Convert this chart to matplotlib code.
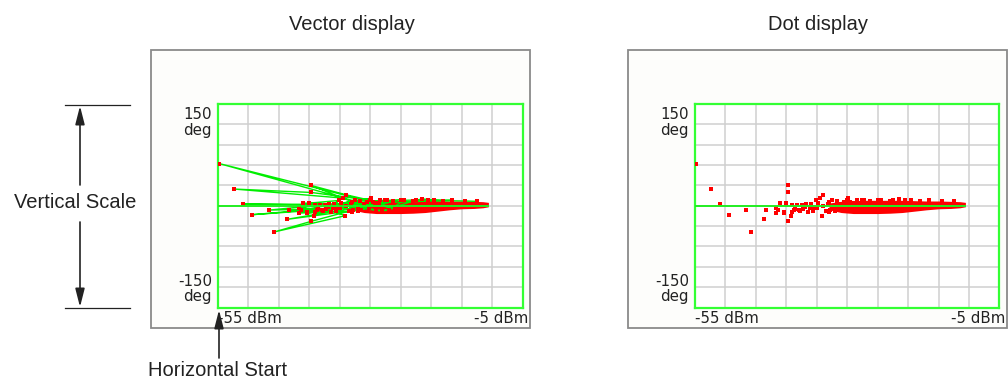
import matplotlib
matplotlib.use("Agg")
import matplotlib.pyplot as plt
from matplotlib.patches import Rectangle, FancyArrowPatch
from matplotlib.lines import Line2D

# phase vs power samples, in measurement order (dBm, deg)
seq_pwr = [-31.0, -54.8, -29.5, -33.0, -39.7, -34.0, -30.0, -39.7, -52.3, -34.5,
           -36.0, -50.9, -38.3, -46.6, -35.0, -49.4, -38.6, -43.3, -37.2, -34.1,
           -45.8, -39.7, -33.5, -43.7, -36.5, -41.7, -38.0, -41.7, -36.8, -41.0,
           -35.5, -40.4, -37.7, -40.0, -35.1, -39.3, -32.5, -39.0, -29.8, -41.4,
           -33.0, -27.5, -31.5, -28.5, -26.0, -30.5, -25.0, -32.0, -28.0, -23.0,
           -21.5, -19.5, -16.5, -39.1, -33.9, -40.4, -31.7, -38.8, -29.2, -36.9,
           -28.4, -36.1, -27.3, -35.6, -26.2, -32.8, -37.5, -32.0, -34.8, -30.2,
           -33.2, -29.0, -27.0, -24.5, -22.5, -20.5, -18.0, -14.5, -12.5]
seq_deg = [3, 62.2, 5, 6, 29.9, 16.2, 8, 19.6, 24.6, 11.3,
           2, 2.5, 1, -6.4, -4, -13.2, -4.9, -6.4, -4.9, -14.7,
           -38.7, -23.0, -8, -20.1, -9, -10.8, -6, -2.9, 3, 3.9,
           -2, -10.8, -8.3, 3.9, 7.8, -14.7, 8.8, -9.3, 11.3, -6.4,
           -9, 8.8, -6, 4, -5, 6, 9, -3, -8, 7,
           10, 8.5, 8, 1.5, -0.5, -9.8, 6.4, -5.9, 3.9, -2,
           7.8, -3.4, 8.8, -8.3, 6.4, -6.9, 1.5, -7.5, 4.5, -4,
           2.5, -6.5, -7, 8, 8.5, 8.2, 7.5, 7, 6.5]

# dense part of the trace at higher power (upper / lower edge, deg)
band_pwr = [-33, -31, -29, -27, -25, -23, -21, -19, -17, -15, -13, -11.5, -10.6]
band_hi = [4, 6.5, 7.5, 8, 8, 8, 8, 7.5, 7, 7, 6.5, 6, 5]
band_lo = [-6, -10, -11.5, -11.5, -11.5, -11, -10, -8, -6, -4.5, -4, -3, -1.5]

x_min, x_max = -55, -5
y_min, y_max = -150, 150
titles = ["Vector display", "Dot display"]

W, H = 1008, 383
fig = plt.figure(figsize=(W / 100, H / 100), dpi=100)
fig.patch.set_facecolor("white")

def fx(x):
    return x / W

def fy(y):
    return 1 - y / H

label_font = ["Liberation Sans"]
screen_font = ["DejaVu Sans"]
green = "#33ff33"
red = "#ff0000"

panels = [(151, 218), (628, 695)]
title_x = [352, 818]

for i, (box_left, plot_left) in enumerate(panels):
    # grey instrument frame
    fig.patches.append(Rectangle((fx(box_left), fy(328)), fx(379), 278 / H,
                                 transform=fig.transFigure, facecolor="#fdfdfb",
                                 edgecolor="#8a8a8a", lw=1.3, zorder=-1))
    fig.text(fx(title_x[i]), fy(24), titles[i], ha="center", va="center",
             fontsize=14.5, family=label_font, color="#222222")

    ax = fig.add_axes([fx(plot_left), fy(307.5), fx(304.5), 203.5 / H])
    ax.set_zorder(2)
    ax.set_xlim(x_min, x_max)
    ax.set_ylim(y_min, y_max)
    ax.set_facecolor("white")
    ax.set_xticks(range(x_min, x_max + 1, 5))
    ax.set_yticks(range(y_min, y_max + 1, 30))
    ax.grid(True, color="#cfcfcf", lw=1.1)
    ax.tick_params(length=0, labelbottom=False, labelleft=False)
    for s in ax.spines.values():
        s.set_color(green)
        s.set_linewidth(1.6)

    ax.fill_between(band_pwr, band_lo, band_hi, color=red, lw=0, zorder=3)
    if i == 0:
        ax.plot(seq_pwr, seq_deg, color="#00ee00", lw=1.0, zorder=4)
    ax.plot(seq_pwr, seq_deg, ls="none", marker="s", ms=2.2, mfc=red, mec=red,
            mew=0, zorder=5)
    ax.plot([x_min, band_pwr[-1]], [0, 0], color="#22ee22", lw=1.4, zorder=6)

    # screen labels
    ax.text(-0.02, 0.985, "150\ndeg", transform=ax.transAxes, ha="right", va="top",
            fontsize=10.8, family=screen_font, linespacing=1.05, color="#222222")
    ax.text(-0.02, 0.015, "-150\ndeg", transform=ax.transAxes, ha="right",
            va="bottom", fontsize=10.8, family=screen_font, linespacing=1.05,
            color="#222222")
    ax.text(0.0, -0.015, "-55 dBm", transform=ax.transAxes, ha="left", va="top",
            fontsize=10.8, family=screen_font, color="#222222")
    ax.text(1.02, -0.015, "-5 dBm", transform=ax.transAxes, ha="right", va="top",
            fontsize=10.8, family=screen_font, color="#222222", clip_on=False)

# Vertical Scale callout
for yy in (105, 308):
    fig.add_artist(Line2D([fx(65), fx(130)], [fy(yy), fy(yy)],
                          transform=fig.transFigure, color="#222222", lw=0.9))
arrow_kw = dict(transform=fig.transFigure, arrowstyle="-|>,head_length=1.1,head_width=0.28",
                mutation_scale=10, color="#222222", lw=1.2, shrinkA=0, shrinkB=0,
                zorder=5)
fig.add_artist(FancyArrowPatch((fx(80), fy(185)), (fx(80), fy(106)), **arrow_kw))
fig.add_artist(FancyArrowPatch((fx(80), fy(222)), (fx(80), fy(307)), **arrow_kw))
fig.text(fx(75), fy(203), "Vertical Scale", ha="center", va="center",
         fontsize=14.5, family=label_font, color="#222222")

# Horizontal Start callout
fig.add_artist(FancyArrowPatch((fx(219), fy(358)), (fx(219), fy(310)), **arrow_kw))
fig.text(fx(218), fy(371), "Horizontal Start", ha="center", va="center",
         fontsize=14.5, family=label_font, color="#222222")

fig.savefig("out.png", dpi=100, facecolor="white")
